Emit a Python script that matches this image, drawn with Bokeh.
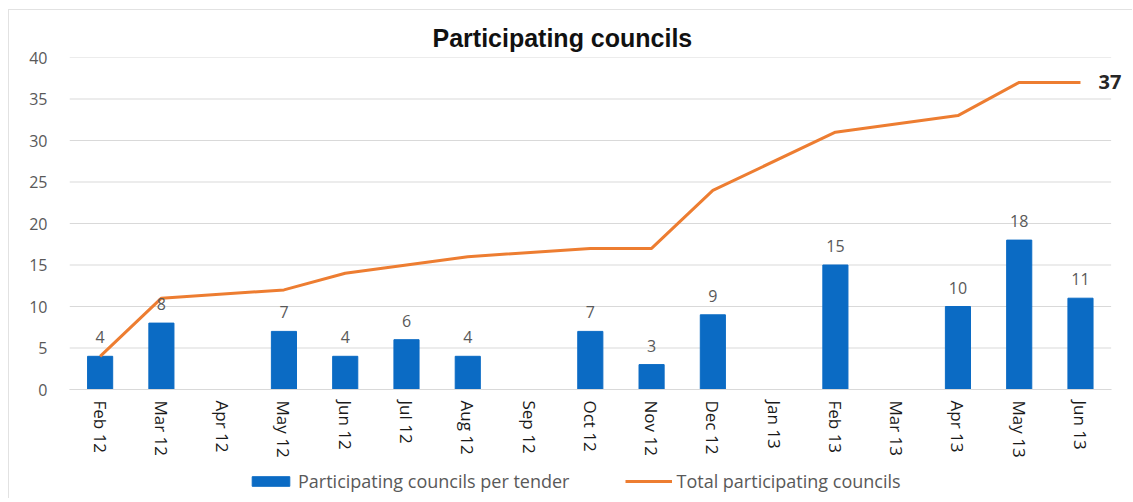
import math
from bokeh.plotting import figure
from bokeh.layouts import column
from bokeh.models import ColumnDataSource, Legend, LegendItem, Range1d, FixedTicker, LabelSet
from bokeh.embed import file_html
from bokeh.resources import INLINE
from bokeh.core.properties import value

months = ["Feb 12", "Mar 12", "Apr 12", "May 12", "Jun 12", "Jul 12", "Aug 12", "Sep 12",
          "Oct 12", "Nov 12", "Dec 12", "Jan 13", "Feb 13", "Mar 13", "Apr 13", "May 13", "Jun 13"]
per_tender = [4, 8, None, 7, 4, 6, 4, None, 7, 3, 9, None, 15, None, 10, 18, 11]
total = [4, 11, None, 12, 14, 15, 16, None, 17, 17, 24, None, 31, None, 33, 37, 37]
y_ticks = [0, 5, 10, 15, 20, 25, 30, 35, 40]
series_names = ["Participating councils per tender", "Total participating councils"]

idx = list(range(len(months)))
bar_x = [i for i, v in zip(idx, per_tender) if v is not None]
bar_v = [v for v in per_tender if v is not None]
bar_src = ColumnDataSource(dict(x=bar_x, top=bar_v, lab=[str(v) for v in bar_v]))
line_x = [i for i, v in zip(idx, total) if v is not None]
line_v = [v for v in total if v is not None]
line_src = ColumnDataSource(dict(x=line_x, y=line_v))
end_src = ColumnDataSource(dict(x=[line_x[-1]], y=[line_v[-1]], lab=[str(line_v[-1])]))

BLUE = "#0B6BC4"
ORANGE = "#ED7D31"
GREY = "#595959"
FONT = "Open Sans"

x_lo, x_hi = -0.5, len(months) - 0.5
p = figure(x_range=Range1d(x_lo, x_hi + 0.3), y_range=Range1d(0, 40),
           width=1132, height=466, output_backend="svg", toolbar_location=None,
           min_border_left=69, min_border_right=3, min_border_top=57, min_border_bottom=77,
           border_fill_color=None, background_fill_color=None)

p.title.text = "Participating councils"
p.title.align = "left"
p.title.offset = 363
p.title.text_font = "Liberation Sans"
p.title.text_font_size = "25px"
p.title.text_font_style = "bold"
p.title.text_color = "#111111"
p.title.standoff = 12

# horizontal gridlines spanning the category area only
p.segment(x0=[x_lo] * len(y_ticks), x1=[x_hi] * len(y_ticks), y0=y_ticks, y1=y_ticks,
          line_color="#D9D9D9", line_width=1)

bars = p.vbar(x="x", top="top", width=0.41, source=bar_src, color=BLUE)
line = p.line(x="x", y="y", source=line_src, color=ORANGE, line_width=3)

p.text(x="x", y="top", text="lab", source=bar_src, text_align="center",
       text_baseline="alphabetic", y_offset=-19, text_font=value(FONT),
       text_font_size="16px", text_color=GREY)

end_lab = LabelSet(x="x", y="y", text="lab", source=end_src, x_offset=18,
                   text_baseline="middle", text_font=value(FONT), text_font_size="20px",
                   text_font_style="bold", text_color="#262626")
p.add_layout(end_lab)

p.outline_line_color = None
p.xgrid.grid_line_color = None
p.ygrid.grid_line_color = None

p.yaxis.ticker = FixedTicker(ticks=y_ticks)
p.yaxis.axis_line_color = None
p.yaxis.major_tick_line_color = None
p.yaxis.minor_tick_line_color = None
p.yaxis.major_label_text_font = FONT
p.yaxis.major_label_text_font_size = "16px"
p.yaxis.major_label_text_color = GREY
p.yaxis.major_label_standoff = 16

p.xaxis.ticker = FixedTicker(ticks=idx)
p.xaxis.major_label_overrides = {i: m for i, m in zip(idx, months)}
p.xaxis.bounds = (x_lo, x_hi)
p.xaxis.axis_line_color = "#D9D9D9"
p.xaxis.major_tick_line_color = None
p.xaxis.minor_tick_line_color = None
p.xaxis.major_label_orientation = -math.pi / 2
p.xaxis.major_label_text_font = FONT
p.xaxis.major_label_text_font_size = "17px"
p.xaxis.major_label_text_color = "#1A1A1A"
p.xaxis.major_label_standoff = 5

# legend strip below the chart; its legend-only renderers carry the series styles
# and lie below the strip's visible range, so only their legend glyphs show
pl = figure(x_range=Range1d(0, 1), y_range=Range1d(0, 1), width=1132, height=32,
            output_backend="svg", toolbar_location=None, x_axis_type=None, y_axis_type=None,
            min_border_left=0, min_border_right=0, min_border_top=0, min_border_bottom=0,
            border_fill_color=None, background_fill_color=None)
pl.outline_line_color = None
pl.grid.grid_line_color = None
dummy = ColumnDataSource(dict(x=[0.5, 0.6], top=[-2, -2], bottom=[-3, -3], y=[-3, -3]))
lb = pl.vbar(x="x", top="top", bottom="bottom", width=0.05, color=BLUE, source=dummy)
ll = pl.line(x="x", y="y", color=ORANGE, line_width=3, source=dummy)
legend = Legend(items=[LegendItem(label=series_names[0], renderers=[lb]),
                       LegendItem(label=series_names[1], renderers=[ll])],
                orientation="horizontal", location=(178, 5),
                glyph_width=47, glyph_height=12, spacing=56, padding=2, margin=0,
                label_standoff=4,
                label_text_font=FONT, label_text_font_size="18px", label_text_color=GREY,
                border_line_color=None, background_fill_alpha=0)
pl.add_layout(legend)

frame_line = "linear-gradient(#E2E2E2, #E2E2E2)"
layout = column(p, pl, spacing=0, styles={
    "background-image": f"{frame_line}, {frame_line}",
    "background-size": "1px 100%, 100% 1px",
    "background-position": "8px 9px, 8px 9px",
    "background-repeat": "no-repeat",
})
open("out.html", "w").write(file_html(layout, INLINE))
